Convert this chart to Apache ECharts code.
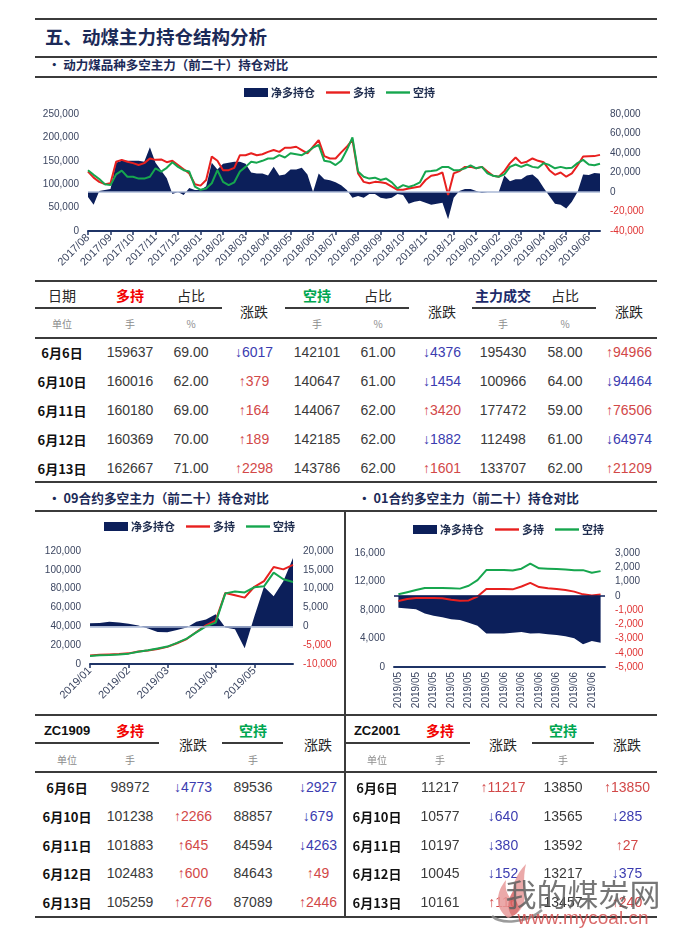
<!DOCTYPE html>
<html><head><meta charset="utf-8">
<script src="https://cdn.jsdelivr.net/npm/echarts/dist/echarts.min.js"></script>
<style>
html,body{margin:0;padding:0;background:#fff;}
#page{position:relative;width:679px;height:939px;overflow:hidden;background:#fff;font-family:'Noto Sans CJK SC',sans-serif;}
.c{position:absolute;transform:translate(-50%,-50%);white-space:nowrap;line-height:1;}
.l{position:absolute;transform:translateY(-50%);white-space:nowrap;line-height:1;}
.hr{position:absolute;background:#3b3b3b;}
.chart{position:absolute;}
</style></head><body><div id="page">
<div id="c1" class="chart" style="left:0;top:80px;width:679px;height:200px"></div>
<div id="c2" class="chart" style="left:0;top:512px;width:345px;height:200px"></div>
<div id="c3" class="chart" style="left:346px;top:512px;width:333px;height:200px"></div>
</div>
<script>
// ---------------- DATA ----------------
const mainDates = [
'2017/08/01','2017/08/08','2017/08/16','2017/08/23',
'2017/09/01','2017/09/08','2017/09/16','2017/09/23',
'2017/10/01','2017/10/08','2017/10/16','2017/10/23',
'2017/11/01','2017/11/08','2017/11/16','2017/11/23',
'2017/12/01','2017/12/08','2017/12/16','2017/12/23',
'2018/01/01','2018/01/08','2018/01/16','2018/01/23',
'2018/02/01','2018/02/08','2018/02/16','2018/02/23',
'2018/03/01','2018/03/08','2018/03/16','2018/03/23',
'2018/04/01','2018/04/08','2018/04/16','2018/04/23',
'2018/05/01','2018/05/08','2018/05/16','2018/05/23',
'2018/06/01','2018/06/08','2018/06/16','2018/06/23',
'2018/07/01','2018/07/08','2018/07/16','2018/07/23',
'2018/08/01','2018/08/08','2018/08/16','2018/08/23',
'2018/09/01','2018/09/08','2018/09/16','2018/09/23',
'2018/10/01','2018/10/08','2018/10/16','2018/10/23',
'2018/11/01','2018/11/08','2018/11/16','2018/11/23','2018/11/28',
'2018/12/01','2018/12/08','2018/12/16','2018/12/23',
'2019/01/01','2019/01/08','2019/01/16','2019/01/23',
'2019/02/01','2019/02/08','2019/02/16','2019/02/23',
'2019/03/01','2019/03/08','2019/03/16','2019/03/23',
'2019/04/01','2019/04/08','2019/04/16','2019/04/23',
'2019/05/01','2019/05/08','2019/05/16','2019/05/23',
'2019/06/01','2019/06/08','2019/06/13'];
const mainLong = [
127000,114000,105000,100000, 102000,148000,152000,148000, 145000,141000,145000,155000,
152000,153000,147000,150000, 141000,132000,123000,100000, 97000,109000,159000,150000,
130000,130000,135000,162000, 162000,166000,162000,164000, 169000,173000,169000,178000,
178000,180000,173000,166000, 180000,194000,160000,155000, 155000,168000,180000,195000,
123000,105000,102000,105000, 104000,102000,95000,88000, 88000,91000,93000,95000,
109000,118000,120000,125000,77000, 123000,128000,137000,137000, 134000,137000,127000,118000,
116000,128000,145000,157000, 145000,148000,155000,150000, 147000,130000,120000,125000,
116000,123000,140000,159000, 159637,160016,162667];
const mainShort = [
130000,120000,111000,100000, 98000,121000,129000,116000, 116000,112000,112000,116000,
134000,127000,135000,147000, 137000,130000,127000,95000, 88000,91000,102000,130000,
105000,98000,104000,127000, 137000,148000,146000,150000, 155000,155000,162000,157000,
166000,164000,162000,169000, 178000,184000,150000,148000, 141000,150000,173000,200000,
127000,116000,112000,114000, 109000,112000,104000,91000, 98000,94000,98000,104000,
127000,128000,130000,137000,137000, 130000,130000,134000,140000, 134000,137000,123000,118000,
116000,121000,137000,142000, 137000,142000,137000,135000, 145000,141000,134000,137000,
134000,135000,145000,152000, 142101,140647,143786];
const mainNet = [
-5000,-13000,1000,2000, 3000,30000,32000,32000, 32000,32000,31000,46000,
30000,22000,14000,-2000, 0,-3000,4000,2000, 2000,6000,30000,23000,
29000,30000,31000,31000, 29000,20000,19000,19000, 17000,26000,17000,18000,
23000,23000,25000,18000, 0,19000,13000,12000, 10000,7000,2000,-6000,
-4000,-6000,-2000,-2000, -6000,-7000,-6000,-2000, -3000,-12000,-10000,-9000,
-11000,-13000,-12000,-11000,-28000, -6000,1000,3000,3000, 1000,-1000,0,0,
0,17000,11000,13000, 13000,17000,18000,13000, 4000,-4000,-12000,-13000,
-17000,-10000,0,18000, 17536,19369,18881];

const dates09 = ['2019/01/02','2019/01/09','2019/01/16','2019/01/23','2019/02/01','2019/02/15','2019/02/22',
'2019/03/01','2019/03/08','2019/03/15','2019/03/22','2019/03/29','2019/04/04','2019/04/12','2019/04/19',
'2019/04/26','2019/05/08','2019/05/15','2019/05/22','2019/05/29','2019/06/05','2019/06/13'];
const long09 = [9000,9800,10200,10600,11300,13200,14400,16000,18200,22000,26500,34000,41000,46000,75500,73000,70500,82000,88000,103000,100500,105259];
const short09 = [8600,9200,9600,10200,11000,12900,14500,16500,18500,22500,27000,33500,40000,44000,75000,77000,76000,81500,82500,97000,90000,87089];
const net09 = [800,900,1200,1000,700,200,-600,-1500,-1600,-1000,-300,1200,1800,3200,-300,-800,-5800,2600,10500,8000,12000,18170];
const labels09 = [0,4,8,13,17];

const dates01 = ['2019/05/21','2019/05/22','2019/05/23','2019/05/24','2019/05/25','2019/05/26','2019/05/27','2019/05/28',
'2019/05/29','2019/05/30','2019/05/31','2019/06/01','2019/06/02','2019/06/03','2019/06/04','2019/06/05','2019/06/06',
'2019/06/07','2019/06/08','2019/06/09','2019/06/10','2019/06/11','2019/06/12','2019/06/13'];
const long01 = [9250,9550,9700,9700,9700,9650,9450,9300,9350,9900,10950,10950,10950,10900,11300,11800,11217,11050,10950,10800,10577,10197,10045,10161];
const short01 = [10200,10500,10800,11100,11100,11100,11050,11000,11400,12200,13600,13600,13600,13550,13800,14500,13850,13800,13750,13680,13565,13592,13217,13457];
const net01 = [-850,-900,-950,-1250,-1400,-1500,-1650,-1700,-1900,-2100,-2650,-2650,-2650,-2600,-2550,-2650,-2633,-2700,-2750,-2850,-2988,-3395,-3172,-3296];

const seriesNames = ['净多持仓','多持','空持'];

const rowDates = ['6月6日','6月10日','6月11日','6月12日','6月13日'];
const t1Long = [159637,160016,160180,160369,162667];
const t1LongPct = ['69.00','62.00','69.00','70.00','71.00'];
const t1LongChg = [-6017,379,164,189,2298];
const t1Short = [142101,140647,144067,142185,143786];
const t1ShortPct = ['61.00','61.00','62.00','62.00','62.00'];
const t1ShortChg = [-4376,-1454,3420,-1882,1601];
const t1Vol = [195430,100966,177472,112498,133707];
const t1VolPct = ['58.00','64.00','59.00','61.00','62.00'];
const t1VolChg = [94966,-94464,76506,-64974,21209];

const t2Long = [98972,101238,101883,102483,105259];
const t2LongChg = [-4773,2266,645,600,2776];
const t2Short = [89536,88857,84594,84643,87089];
const t2ShortChg = [-2927,-679,-4263,49,2446];

const t3Long = [11217,10577,10197,10045,10161];
const t3LongChg = [11217,-640,-380,-152,116];
const t3Short = [13850,13565,13592,13217,13457];
const t3ShortChg = [13850,-285,27,-375,240];

// ---------------- PAGE TEXT / LINES ----------------
const page = document.getElementById('page');
const CJK = "'Noto Sans CJK SC',sans-serif";
const NUM = "'Liberation Sans Narrow','Liberation Sans',sans-serif";
const NAVY = '#1c2a58';
function put(x,y,s,st,left){const d=document.createElement('div');d.className=left?'l':'c';d.style.left=x+'px';d.style.top=y+'px';d.textContent=s;Object.assign(d.style,st);page.appendChild(d);return d;}
function hr(x1,x2,y,w,col){const d=document.createElement('div');d.className='hr';d.style.left=x1+'px';d.style.width=(x2-x1)+'px';d.style.top=(y-w/2)+'px';d.style.height=w+'px';if(col)d.style.background=col;page.appendChild(d);}
function vr(x,y1,y2,w){const d=document.createElement('div');d.className='hr';d.style.left=(x-w/2)+'px';d.style.width=w+'px';d.style.top=y1+'px';d.style.height=(y2-y1)+'px';page.appendChild(d);}
const UP='#d24848', DOWN='#3b3cb0';
function chg(x,y,v){put(x,y,(v<0?'\u2193':'\u2191')+Math.abs(v),{font:'14px '+NUM,color:v<0?DOWN:UP});}

const sHead={font:'14px '+CJK,color:'#262626'};
const sRed={font:'bold 14px '+CJK,color:'#f20000'};
const sGreen={font:'bold 14px '+CJK,color:'#00a650'};
const sNavy={font:'bold 14px '+CJK,color:'#1c2a6a'};
const sSub={font:'10px '+CJK,color:'#8c8c8c'};
const sDate={font:'bold 13px '+CJK,color:'#111'};
const sNum={font:'14px '+NUM,color:'#3a3a3a'};
const sTitle={font:'bold 12.7px '+CJK,color:NAVY};

// header
hr(35,657,19,2);
put(45,36,'五、动煤主力持仓结构分析',{font:'bold 18.5px '+CJK,color:NAVY},true);
hr(35,657,57,2);
put(48,64,'•  动力煤品种多空主力（前二十）持仓对比',{font:'bold 12.5px '+CJK,color:NAVY},true);
hr(35,657,77,2);

// table 1
hr(35,657,281,2);
const c1=[62,130,191,254,317,378,442,503,565,629];
const ry1=[352,381,410,439,468];
put(c1[0],295,'日期',sHead); put(c1[1],295,'多持',sRed); put(c1[2],295,'占比',sHead);
put(c1[4],295,'空持',sGreen); put(c1[5],295,'占比',sHead);
put(c1[7],295,'主力成交',sNavy); put(c1[8],295,'占比',sHead);
put(c1[3],311,'涨跌',sHead); put(c1[6],311,'涨跌',sHead); put(c1[9],311,'涨跌',sHead);
hr(35,222,308,1.6); hr(285,409,308,1.6); hr(472,596,308,1.6);
put(c1[0],323,'单位',sSub); put(c1[1],323,'手',sSub); put(c1[2],323,'%',sSub);
put(c1[4],323,'手',sSub); put(c1[5],323,'%',sSub); put(c1[7],323,'手',sSub); put(c1[8],323,'%',sSub);
hr(35,657,338,2);
for(let i=0;i<5;i++){
  const y=ry1[i];
  put(c1[0],y,rowDates[i],sDate);
  put(c1[1],y,String(t1Long[i]),sNum); put(c1[2],y,t1LongPct[i],sNum); chg(c1[3],y,t1LongChg[i]);
  put(c1[4],y,String(t1Short[i]),sNum); put(c1[5],y,t1ShortPct[i],sNum); chg(c1[6],y,t1ShortChg[i]);
  put(c1[7],y,String(t1Vol[i]),sNum); put(c1[8],y,t1VolPct[i],sNum); chg(c1[9],y,t1VolChg[i]);
}
hr(35,657,482,2);

// sub titles bottom
put(48,497,'•  09合约多空主力（前二十）持仓对比',sTitle,true);
put(358,497,'•  01合约多空主力（前二十）持仓对比',sTitle,true);
hr(35,657,511,2);
vr(345,511,918,2);

// bottom tables
hr(35,657,715,2);
const c2=[67,130,193,253,318];
const c3=[377,440,503,563,627];
const ry2=[787,816,845,873,902];
function smallTable(cx,code,L,LC,S,SC,u1,u2){
  put(cx[0],730,code,{font:'bold 13px '+NUM,color:'#111'});
  put(cx[1],730,'多持',sRed); put(cx[3],730,'空持',sGreen);
  put(cx[2],744,'涨跌',sHead); put(cx[4],744,'涨跌',sHead);
  hr(u1[0],u1[1],743,1.6); hr(u2[0],u2[1],743,1.6);
  put(cx[0],759,'单位',sSub); put(cx[1],759,'手',sSub); put(cx[3],759,'手',sSub);
  for(let i=0;i<5;i++){
    const y=ry2[i];
    put(cx[0],y,rowDates[i],sDate);
    put(cx[1],y,String(L[i]),sNum); chg(cx[2],y,LC[i]);
    put(cx[3],y,String(S[i]),sNum); chg(cx[4],y,SC[i]);
  }
}
smallTable(c2,'ZC1909',t2Long,t2LongChg,t2Short,t2ShortChg,[35,159],[222,283]);
smallTable(c3,'ZC2001',t3Long,t3LongChg,t3Short,t3ShortChg,[345,470],[532,594]);
hr(35,657,772,2);
hr(35,657,917,2);

// watermark
const wm=document.createElement('div');
wm.style.cssText='position:absolute;left:486px;top:858px;width:60px;height:70px;opacity:0.85';
wm.innerHTML='<svg width="60" height="70" viewBox="0 0 60 70"><path d="M22 60 C8 50 10 34 20 22 C18 34 24 40 28 44 C24 30 30 16 40 6 C36 22 40 34 38 46 C34 54 28 58 22 60Z" fill="#e89a9a"/><path d="M26 58 C20 50 22 40 28 32 C28 42 32 46 34 50 C32 54 30 57 26 58Z" fill="#d86464"/><path d="M6 58 C14 66 40 66 56 52" stroke="#8a8a8a" stroke-width="2.5" fill="none"/></svg>';
page.appendChild(wm);
put(583,892,'我的煤炭网',{font:'31px '+CJK,color:'#5f5f5f',opacity:'0.85'});
put(583,918,'www.mycoal.cn',{font:'19px '+"'Liberation Sans',sans-serif",color:'#d45050',opacity:'0.85'});

// ---------------- CHARTS ----------------
const AX='#3c4661', RED='#e8201f', GREEN='#16a64e', NETC='#0c1f5a', AXLINE='#1f3466';
const LAB="'Liberation Sans',sans-serif";
const lineIcon='path://M0,0H24V2.4H0Z';
function legendOpt(left,top){
  return {left:left,top:top,itemWidth:24,itemHeight:9,itemGap:11,
    itemStyle:{borderWidth:0},
    textStyle:{fontSize:11,fontWeight:'bold',color:'#1f2d4f',fontFamily:CJK,padding:[0,0,0,-2]},
    data:[{name:seriesNames[0],icon:'rect'},{name:seriesNames[1],icon:lineIcon},{name:seriesNames[2],icon:lineIcon}]};
}
function yL(min,max,iv,fmt){
  return {type:'value',min:min,max:max,interval:iv,splitLine:{show:false},axisLine:{show:false},axisTick:{show:false},
    axisLabel:{fontSize:10,fontFamily:LAB,color:AX,margin:9,formatter:fmt}};
}
function yR(min,max,iv,fmt){
  return {type:'value',min:min,max:max,interval:iv,splitLine:{show:false},axisLine:{show:false},axisTick:{show:false},
    axisLabel:{fontSize:10,fontFamily:LAB,margin:10,formatter:fmt,color:function(v){return Number(String(v).replace(/,/g,''))<0?'#e03434':AX;}}};
}
function seriesSet(net,lng,sht,zeroCol){
  return [
    {name:seriesNames[0],type:'line',yAxisIndex:1,data:net,symbol:'none',showSymbol:false,
     lineStyle:{width:0},itemStyle:{color:NETC},areaStyle:{color:NETC,opacity:1},
     markLine:{silent:true,symbol:'none',label:{show:false},lineStyle:{color:zeroCol,width:1.5,type:'solid'},data:[{yAxis:0}]}},
    {name:seriesNames[1],type:'line',data:lng,symbol:'none',showSymbol:false,lineStyle:{width:2,color:RED},itemStyle:{color:RED}},
    {name:seriesNames[2],type:'line',data:sht,symbol:'none',showSymbol:false,lineStyle:{width:2,color:GREEN},itemStyle:{color:GREEN}}
  ];
}
function xCat(data,opts){
  return Object.assign({type:'category',data:data,
    axisLine:{lineStyle:{color:AXLINE,width:2}},
    splitLine:{show:false}},opts);
}

const monthStart=(i,v)=>v.slice(8)==='01';
const ch1=echarts.init(document.getElementById('c1'),null,{renderer:'canvas'});
ch1.setOption({animation:false,
  legend:legendOpt('center',2),
  grid:{left:88,right:79,top:34,bottom:49},
  xAxis:xCat(mainDates,{boundaryGap:false,
    axisTick:{interval:monthStart,length:4,lineStyle:{color:AXLINE,width:1.5}},
    axisLabel:{interval:monthStart,rotate:45,fontSize:11,fontFamily:LAB,color:AX,margin:5,formatter:v=>v.slice(0,7)}}),
  yAxis:[yL(0,250000,50000),yR(-40000,80000,20000)],
  series:seriesSet(mainNet,mainLong,mainShort,'#aab8d6')
});

const lab09=(i)=>labels09.indexOf(i)>=0;
const ch2=echarts.init(document.getElementById('c2'));
ch2.setOption({animation:false,
  legend:legendOpt(99,4),
  grid:{left:90,right:52,top:39,bottom:48},
  xAxis:xCat(dates09,{boundaryGap:false,
    axisTick:{interval:lab09,length:4,lineStyle:{color:AXLINE,width:1.5}},
    axisLabel:{interval:lab09,rotate:45,fontSize:11,fontFamily:LAB,color:AX,margin:5,formatter:v=>v.slice(0,7)}}),
  yAxis:[yL(0,120000,20000),yR(-10000,20000,5000)],
  series:seriesSet(net09,long09,short09,'#aab8d6')
});

const ch3=echarts.init(document.getElementById('c3'));
const comma=v=>{const a=Math.abs(v).toString().replace(/\B(?=(\d{3})+(?!\d))/g,',');return (v<0?'-':'')+a;};
ch3.setOption({animation:false,
  legend:legendOpt(62,7),
  grid:{left:48,right:74,top:41,bottom:45},
  xAxis:xCat(dates01,{boundaryGap:true,
    axisTick:{interval:1,length:4,lineStyle:{color:AXLINE,width:1.5}},
    axisLabel:{interval:1,rotate:90,fontSize:10,fontFamily:LAB,color:AX,margin:5,formatter:v=>v.slice(0,7)}}),
  yAxis:[yL(0,16000,4000),yR(-5000,3000,1000,comma)],
  series:seriesSet(net01,long01,short01,NETC)
});
</script></body></html>
